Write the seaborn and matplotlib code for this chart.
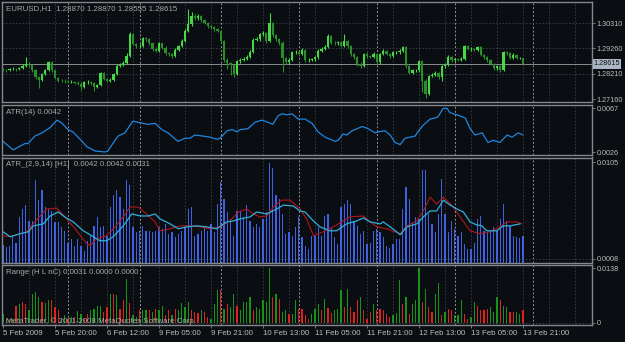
import numpy as np
import pandas as pd
import matplotlib
matplotlib.use("Agg")
import matplotlib.pyplot as plt
import matplotlib.transforms as mtransforms
import seaborn as sns

# EURUSD H1, values (bar index 0 = 5 Feb 2009 04:00)
first_open = 1.2839
close = [
    1.2837, 1.2835, 1.2840, 1.2842, 1.2839, 1.2843, 1.2854, 1.2862, 1.2858, 1.2835,
    1.2807, 1.2796, 1.2821, 1.2837, 1.2868, 1.2835, 1.2803, 1.2793, 1.2792, 1.2789,
    1.2787, 1.2788, 1.2784, 1.2780, 1.2766, 1.2785, 1.2788, 1.2782, 1.2766, 1.2774,
    1.2824, 1.2799, 1.2793, 1.2796, 1.2821, 1.2854, 1.2859, 1.2865, 1.2895, 1.2986,
    1.2944, 1.2934, 1.2936, 1.2968, 1.2964, 1.2947, 1.2923, 1.2917, 1.2947, 1.2929,
    1.2906, 1.2902, 1.2895, 1.2920, 1.2936, 1.2958, 1.2999, 1.3027, 1.3060, 1.3050,
    1.3061, 1.3043, 1.3032, 1.3019, 1.3013, 1.3005, 1.2999, 1.2958, 1.2879, 1.2865,
    1.2858, 1.2821, 1.2872, 1.2879, 1.2884, 1.2892, 1.2913, 1.2961, 1.2964, 1.2984,
    1.2988, 1.2958, 1.3030, 1.2982, 1.2964, 1.2950, 1.2885, 1.2868, 1.2879, 1.2909,
    1.2910, 1.2903, 1.2920, 1.2876, 1.2879, 1.2881, 1.2890, 1.2917, 1.2923, 1.2931,
    1.2977, 1.2950, 1.2947, 1.2951, 1.2936, 1.2958, 1.2934, 1.2903, 1.2890, 1.2862,
    1.2854, 1.2903, 1.2895, 1.2892, 1.2903, 1.2868, 1.2903, 1.2917, 1.2903, 1.2895,
    1.2909, 1.2909, 1.2917, 1.2931, 1.2851, 1.2826, 1.2835, 1.2835, 1.2872, 1.2789,
    1.2739, 1.2810, 1.2817, 1.2826, 1.2807, 1.2851, 1.2858, 1.2892, 1.2876, 1.2881,
    1.2879, 1.2884, 1.2934, 1.2923, 1.2924, 1.2920, 1.2931, 1.2899, 1.2890, 1.2876,
    1.2862, 1.2844, 1.2851, 1.2837, 1.2909, 1.2906, 1.2885, 1.2899, 1.2885, 1.2887,
    1.28615]
high = [
    1.2845, 1.2842, 1.2846, 1.2848, 1.2846, 1.2850, 1.2860, 1.2892, 1.2868, 1.2862,
    1.2840, 1.2812, 1.2826, 1.2842, 1.2875, 1.2872, 1.2838, 1.2808, 1.2800, 1.2798,
    1.2795, 1.2794, 1.2793, 1.2790, 1.2785, 1.2790, 1.2795, 1.2793, 1.2786, 1.2780,
    1.2830, 1.2828, 1.2805, 1.2802, 1.2826, 1.2860, 1.2866, 1.2872, 1.2905, 1.2995,
    1.2990, 1.2950, 1.2944, 1.2975, 1.2974, 1.2968, 1.2952, 1.2930, 1.2952, 1.2950,
    1.2934, 1.2912, 1.2908, 1.2926, 1.2942, 1.2964, 1.3006, 1.3090, 1.3075, 1.3068,
    1.3070, 1.3065, 1.3048, 1.3036, 1.3024, 1.3018, 1.3010, 1.3003, 1.2962, 1.2885,
    1.2870, 1.2862, 1.2878, 1.2886, 1.2892, 1.2898, 1.2920, 1.2968, 1.2972, 1.2990,
    1.2996, 1.2994, 1.3071, 1.3035, 1.2986, 1.2968, 1.2955, 1.2890, 1.2885, 1.2915,
    1.2918, 1.2916, 1.2926, 1.2924, 1.2885, 1.2888, 1.2896, 1.2922, 1.2930, 1.2938,
    1.2985, 1.2982, 1.2956, 1.2958, 1.2956, 1.2985, 1.2962, 1.2938, 1.2908, 1.2894,
    1.2868, 1.2908, 1.2910, 1.2900, 1.2909, 1.2907, 1.2908, 1.2924, 1.2921, 1.2908,
    1.2915, 1.2916, 1.2922, 1.2936, 1.2935, 1.2856, 1.2842, 1.2842, 1.2878, 1.2878,
    1.2800, 1.2816, 1.2824, 1.2832, 1.2830, 1.2858, 1.2866, 1.2898, 1.2896, 1.2888,
    1.2886, 1.2890, 1.2940, 1.2938, 1.2930, 1.2928, 1.2937, 1.2934, 1.2904, 1.2894,
    1.2880, 1.2866, 1.2858, 1.2856, 1.2916, 1.2915, 1.2910, 1.2905, 1.2904, 1.2892,
    1.28870]
low = [
    1.2832, 1.2830, 1.2832, 1.2836, 1.2834, 1.2835, 1.2840, 1.2850, 1.2850, 1.2828,
    1.2800, 1.2762, 1.2790, 1.2815, 1.2832, 1.2828, 1.2798, 1.2786, 1.2786, 1.2783,
    1.2782, 1.2782, 1.2779, 1.2774, 1.2755, 1.2762, 1.2780, 1.2776, 1.2748, 1.2760,
    1.2770, 1.2794, 1.2786, 1.2788, 1.2790, 1.2816, 1.2848, 1.2852, 1.2860, 1.2890,
    1.2938, 1.2926, 1.2928, 1.2930, 1.2955, 1.2940, 1.2915, 1.2910, 1.2912, 1.2922,
    1.2898, 1.2895, 1.2888, 1.2890, 1.2915, 1.2930, 1.2952, 1.2994, 1.3020, 1.3042,
    1.3044, 1.3036, 1.3025, 1.3012, 1.3006, 1.2998, 1.2992, 1.2950, 1.2870, 1.2840,
    1.2815, 1.2808, 1.2815, 1.2866, 1.2872, 1.2878, 1.2888, 1.2908, 1.2955, 1.2958,
    1.2978, 1.2950, 1.2952, 1.2975, 1.2957, 1.2942, 1.2830, 1.2860, 1.2862, 1.2874,
    1.2903, 1.2896, 1.2898, 1.2869, 1.2870, 1.2873, 1.2875, 1.2884, 1.2911, 1.2918,
    1.2926, 1.2944, 1.2940, 1.2942, 1.2930, 1.2930, 1.2926, 1.2896, 1.2882, 1.2855,
    1.2845, 1.2848, 1.2888, 1.2885, 1.2887, 1.2860, 1.2862, 1.2898, 1.2897, 1.2888,
    1.2890, 1.2902, 1.2904, 1.2912, 1.2845, 1.2818, 1.2820, 1.2828, 1.2830, 1.2745,
    1.2722, 1.2734, 1.2806, 1.2810, 1.2800, 1.2790, 1.2846, 1.2852, 1.2870, 1.2870,
    1.2872, 1.2873, 1.2878, 1.2918, 1.2917, 1.2914, 1.2914, 1.2893, 1.2884, 1.2870,
    1.2856, 1.2838, 1.2838, 1.2830, 1.2832, 1.2899, 1.2880, 1.2880, 1.2880, 1.2880,
    1.28555]

# ATR(14) line (bar index, value)
atr_bar = [0, 3.1, 6.8, 7.7, 9.8, 12, 14.5, 16.6, 18.2, 20, 21.5, 23.7, 25.8, 28.3, 31.4,
           32.3, 33.8, 35.4, 37.5, 39.7, 40, 43, 44.6, 46.8, 48.9, 50.8, 52.3, 53.8, 56,
           57.5, 59, 61.5, 63.7, 65.8, 66.8, 68.9, 70.5, 72, 72.9, 75.4, 77.5, 79.7, 81.5,
           83, 84.6, 85.8, 87.4, 88.9, 90.8, 92.9, 95.1, 96.9, 99.1, 102.2, 103.1, 104.6,
           105.8, 107.4, 110.5, 112.3, 114.5, 115.4, 117.5, 119.1, 120.6, 122.2, 123.7,
           126.8, 127.4, 129.2, 131.4, 132.9, 133.8, 135.4, 136.6, 137.5, 138.5, 140.6,
           142.2, 143.7, 145.2, 147.4, 149.2, 150.8, 152.9, 155.1, 156.6, 158.5, 160]
atr_val = [0.0036, 0.0028, 0.0034, 0.0034, 0.0041, 0.0044, 0.0049, 0.0056, 0.0053, 0.0047,
           0.0045, 0.0038, 0.0031, 0.0027, 0.0026, 0.0027, 0.0034, 0.0041, 0.0044, 0.0054,
           0.0055, 0.0053, 0.0052, 0.0053, 0.0047, 0.0044, 0.0040, 0.0036, 0.0039, 0.0039,
           0.0042, 0.0041, 0.0040, 0.0038, 0.0039, 0.0046, 0.0047, 0.0045, 0.0047, 0.0048,
           0.0054, 0.0056, 0.0054, 0.0052, 0.0060, 0.0062, 0.0061, 0.0062, 0.0057, 0.0057,
           0.0053, 0.0045, 0.0040, 0.0036, 0.0037, 0.0043, 0.0042, 0.0046, 0.0050, 0.0048,
           0.0044, 0.0045, 0.0046, 0.0042, 0.0035, 0.0033, 0.0039, 0.0041, 0.0044, 0.0051,
           0.0057, 0.0058, 0.0059, 0.0067, 0.0067, 0.0063, 0.0062, 0.0060, 0.0058, 0.0048,
           0.0042, 0.0044, 0.0035, 0.0037, 0.0035, 0.0042, 0.0040, 0.0044, 0.0042]

# ATR_(2,9,14) histogram and its two lines
atr_hist = [
    0.0022, 0.0020, 0.0021, 0.0031, 0.0024, 0.0050, 0.0058, 0.0062, 0.0046, 0.0046,
    0.0087, 0.0067, 0.0077, 0.0060, 0.0058, 0.0056, 0.0045, 0.0045, 0.0040, 0.0036,
    0.0024, 0.0028, 0.0021, 0.0028, 0.0021, 0.0016, 0.0026, 0.0031, 0.0041, 0.0050,
    0.0040, 0.0041, 0.0031, 0.0060, 0.0072, 0.0077, 0.0070, 0.0058, 0.0087, 0.0082,
    0.0040, 0.0035, 0.0036, 0.0041, 0.0036, 0.0036, 0.0035, 0.0036, 0.0040, 0.0038,
    0.0043, 0.0033, 0.0035, 0.0030, 0.0033, 0.0036, 0.0040, 0.0058, 0.0060, 0.0031,
    0.0033, 0.0036, 0.0040, 0.0036, 0.0043, 0.0035, 0.0063, 0.0085, 0.0068, 0.0055,
    0.0048, 0.0031, 0.0056, 0.0056, 0.0050, 0.0062, 0.0046, 0.0040, 0.0043, 0.0040,
    0.0048, 0.0055, 0.0104, 0.0099, 0.0072, 0.0068, 0.0053, 0.0033, 0.0035, 0.0031,
    0.0040, 0.0050, 0.0030, 0.0021, 0.0018, 0.0031, 0.0031, 0.0040, 0.0031, 0.0051,
    0.0053, 0.0040, 0.0030, 0.0023, 0.0060, 0.0063, 0.0067, 0.0063, 0.0046, 0.0041,
    0.0033, 0.0036, 0.0023, 0.0024, 0.0036, 0.0038, 0.0035, 0.0030, 0.0021, 0.0019,
    0.0023, 0.0028, 0.0028, 0.0058, 0.0080, 0.0068, 0.0045, 0.0050, 0.0048, 0.0097,
    0.0097, 0.0053, 0.0043, 0.0035, 0.0053, 0.0088, 0.0053, 0.0035, 0.0046, 0.0038,
    0.0031, 0.0035, 0.0023, 0.0018, 0.0018, 0.0024, 0.0048, 0.0051, 0.0036, 0.0035,
    0.0035, 0.0040, 0.0036, 0.0048, 0.0063, 0.0046, 0.0041, 0.0031, 0.0030, 0.0029,
    0.0031]
cyan_bar = [0, 2.2, 5.2, 7.8, 9.3, 12.4, 14.5, 17, 19, 21.6, 24.7, 27.8, 29.8, 31.9, 33.9,
            37, 39.6, 42.2, 44.7, 46.8, 48.3, 51.4, 54, 56.5, 59.6, 62.7, 65.7, 68.8, 70.9,
            72.9, 76, 78, 81.1, 84.2, 86.3, 89.3, 91.4, 92.9, 95.5, 97.5, 100.6, 102.6,
            105.7, 108.8, 110.9, 112.9, 116, 117, 119.1, 121.1, 122.2, 124.2, 127.3, 129.3,
            131.4, 133.4, 135.5, 137.5, 139.6, 141.6, 143.7, 145.7, 147.3, 148.8, 151.9,
            153.9, 156, 159.1]
cyan_val = [0.0035, 0.0030, 0.0033, 0.0035, 0.0041, 0.0043, 0.0051, 0.0055, 0.0050, 0.0045,
            0.0036, 0.0030, 0.0026, 0.0026, 0.0030, 0.0041, 0.0053, 0.0051, 0.0051, 0.0053,
            0.0048, 0.0043, 0.0038, 0.0040, 0.0041, 0.0040, 0.0038, 0.0045, 0.0046, 0.0048,
            0.0050, 0.0055, 0.0053, 0.0058, 0.0062, 0.0061, 0.0056, 0.0055, 0.0046, 0.0040,
            0.0036, 0.0036, 0.0043, 0.0046, 0.0049, 0.0045, 0.0043, 0.0045, 0.0040, 0.0035,
            0.0032, 0.0040, 0.0043, 0.0050, 0.0056, 0.0056, 0.0067, 0.0062, 0.0058, 0.0055,
            0.0045, 0.0042, 0.0041, 0.0036, 0.0036, 0.0041, 0.0041, 0.0043]
red_bar = [0, 2.2, 5.2, 7.3, 9.8, 11.9, 13.4, 16.5, 19.6, 22.7, 25.7, 26.8, 28.8, 31.9, 34.5,
           37, 39.1, 41.6, 44.2, 46.8, 48.3, 51.4, 54.5, 57.5, 60.6, 63.7, 66.8, 69.8, 72.4,
           75, 77, 79.1, 81.1, 83.2, 85.7, 88.3, 91.4, 93.4, 95.5, 98.5, 101.6, 104.2, 106.7,
           110.9, 112.9, 115, 118.1, 122.2, 124.2, 127.3, 129.3, 131.4, 133.4, 135.5, 138.6,
           140.6, 143.7, 146.8, 149.8, 152.9, 155, 158.1, 159.6]
red_val = [0.0031, 0.0030, 0.0033, 0.0035, 0.0045, 0.0053, 0.0058, 0.0059, 0.0048, 0.0036,
           0.0023, 0.0021, 0.0028, 0.0031, 0.0040, 0.0050, 0.0060, 0.0060, 0.0053, 0.0045,
           0.0036, 0.0038, 0.0041, 0.0041, 0.0040, 0.0038, 0.0040, 0.0046, 0.0055, 0.0058,
           0.0053, 0.0050, 0.0051, 0.0060, 0.0067, 0.0067, 0.0058, 0.0048, 0.0031, 0.0035,
           0.0040, 0.0045, 0.0050, 0.0051, 0.0045, 0.0040, 0.0038, 0.0033, 0.0041, 0.0046,
           0.0056, 0.0070, 0.0063, 0.0070, 0.0060, 0.0050, 0.0036, 0.0033, 0.0035, 0.0040,
           0.0045, 0.0045, 0.0043]

# Range (H L nC) histogram, g = up bar, r = down bar
range_hl = [
    0.0022, 0.0009, 0.0009, 0.0009, 0.0043, 0.0048, 0.0052, 0.0048, 0.0031, 0.0073,
    0.0078, 0.0065, 0.0052, 0.0049, 0.0058, 0.0058, 0.0039, 0.0032, 0.0009, 0.0018,
    0.0009, 0.0014, 0.0015, 0.0029, 0.0022, 0.0009, 0.0022, 0.0031, 0.0035, 0.0043,
    0.0043, 0.0026, 0.0039, 0.0073, 0.0073, 0.0069, 0.0035, 0.0056, 0.0109, 0.0049,
    0.0018, 0.0014, 0.0032, 0.0031, 0.0032, 0.0031, 0.0026, 0.0035, 0.0032, 0.0041,
    0.0020, 0.0032, 0.0020, 0.0035, 0.0031, 0.0049, 0.0039, 0.0052, 0.0031, 0.0026,
    0.0024, 0.0031, 0.0026, 0.0014, 0.0009, 0.0048, 0.0083, 0.0082, 0.0035, 0.0048,
    0.0039, 0.0073, 0.0043, 0.0031, 0.0052, 0.0052, 0.0065, 0.0031, 0.0039, 0.0035,
    0.0056, 0.0052, 0.0137, 0.0065, 0.0073, 0.0060, 0.0026, 0.0031, 0.0022, 0.0022,
    0.0056, 0.0035, 0.0035, 0.0018, 0.0009, 0.0022, 0.0035, 0.0048, 0.0032, 0.0060,
    0.0037, 0.0024, 0.0031, 0.0035, 0.0082, 0.0039, 0.0086, 0.0039, 0.0026, 0.0056,
    0.0065, 0.0031, 0.0009, 0.0026, 0.0048, 0.0031, 0.0035, 0.0032, 0.0022, 0.0015,
    0.0018, 0.0024, 0.0107, 0.0048, 0.0065, 0.0022, 0.0048, 0.0056, 0.0137, 0.0052,
    0.0086, 0.0039, 0.0026, 0.0073, 0.0099, 0.0018, 0.0026, 0.0035, 0.0031, 0.0018,
    0.0020, 0.0056, 0.0022, 0.0009, 0.0014, 0.0052, 0.0043, 0.0031, 0.0031, 0.0035,
    0.0039, 0.0026, 0.0065, 0.0056, 0.0043, 0.0039, 0.0026, 0.0026, 0.0026, 0.0022,
    0.0031]
range_dir = ("ggrgrgrrgg" "ggrggrrrgg" "rgrggrrggg" "grrgrgrrgr" "ggrggrgrgg"
             "rrgrggggrr" "rgrrgggrgr" "ggrggggrgg" "gggrgrggrg" "grrrrgggrg"
             "rrgggrgrrr" "grrrgrrrrr" "gggrgrgggr" "grrggrgrrg" "ggrrggrrrr"
             "gggrggrrgg" "r")

time_bars = [0, 16, 32, 48, 64, 80, 96, 112, 128, 144, 160]
time_labels = ['5 Feb 2009', '5 Feb 20:00', '6 Feb 12:00', '9 Feb 05:00', '9 Feb 21:00',
               '10 Feb 13:00', '11 Feb 05:00', '11 Feb 21:00', '12 Feb 13:00',
               '13 Feb 05:00', '13 Feb 21:00']
day_starts = [20, 42, 67, 91, 115, 139, 163]
price_ticks = [1.3031, 1.2926, 1.2821, 1.2716]

BG = '#0a0d11'
GRID = '#3c4148'
SEP = '#8f9397'
EDGE = '#83878b'
TXT = '#bcbcbc'
FS = 5.7
FS_Y = 5.2

sns.set_theme(style='dark', rc={'axes.facecolor': BG, 'figure.facecolor': BG,
                                'axes.edgecolor': EDGE, 'axes.grid': False})
plt.rcParams['font.family'] = ['Liberation Sans', 'DejaVu Sans']

W, H = 625, 342
fig = plt.figure(figsize=(W / 100, H / 100), dpi=100)


def panel(top, bottom):
    return fig.add_axes([2 / W, 1 - bottom / H, 590 / W, (bottom - top) / H])


ax1 = panel(2, 102)
ax2 = panel(104.5, 155)
ax3 = panel(157.5, 262.5)
ax4 = panel(265, 324.5)
axes = [ax1, ax2, ax3, ax4]

for ax in axes:
    ax.set_facecolor(BG)
    for g in range(8, 181, 8):
        ax.axvline(g, color=GRID, lw=0.6, ls=(0, (2, 2)), zorder=0)
    for d in day_starts:
        ax.axvline(d, color=SEP, lw=0.7, ls=(0, (2, 2)), zorder=0)
    for s in ax.spines.values():
        s.set_color(EDGE)
        s.set_linewidth(1.0)

# price candles
x = np.arange(len(close))
c = np.array(close)
o = np.array([first_open] + close[:-1])
up = c >= o
col = np.where(up, '#47d847', '#2a8e2a')
for p in price_ticks[:3]:
    ax1.axhline(p, color=GRID, lw=0.6, ls=(0, (2, 2)), zorder=0)
ax1.axhline(close[-1], color='#8c8c8c', lw=0.7, zorder=1)
ax1.vlines(x, low, high, colors=col, lw=0.8, zorder=2)
ax1.bar(x, np.maximum(np.abs(c - o), 0.00006), bottom=np.minimum(o, c),
        width=0.7, color=col, linewidth=0, zorder=3)
ax1.set_ylim(1.2704, 1.3118)

# ATR(14)
sns.lineplot(x=atr_bar, y=atr_val, ax=ax2, color='#1f86e0', lw=0.9, sort=False)
ax2.set_ylim(0.00232, 0.00707)

# ATR_(2,9,14)
ax3.bar(x, atr_hist, width=0.4, color='#3f62e4', linewidth=0, zorder=2)
sns.lineplot(x=red_bar, y=red_val, ax=ax3, color='#b0161a', lw=0.8, sort=False, zorder=3)
sns.lineplot(x=cyan_bar, y=cyan_val, ax=ax3, color='#2eb0dc', lw=0.9, sort=False, zorder=4)
ax3.axhline(0.0008, color=GRID, lw=0.6, ls=(0, (2, 2)), zorder=1)
ax3.set_ylim(0.0004, 0.0110)

# Range (H L nC)
rcol = ['#17931a' if d == 'g' else '#e0221f' for d in range_dir]
ax4.bar(x, range_hl, width=0.4, color=rcol, linewidth=0, zorder=2)
ax4.axhline(0, color=GRID, lw=0.6, ls=(0, (2, 2)), zorder=1)
ax4.set_ylim(-0.0005, 0.01457)

right_ticks = [
    (ax1, price_ticks, [f'{p:.5f}' for p in price_ticks]),
    (ax2, [0.0067, 0.0026], ['0.0067', '0.0026']),
    (ax3, [0.0105, 0.0008], ['0.0105', '0.0008']),
    (ax4, [0.0138, 0.0], ['0.0138', '0']),
]
for ax, ticks, labels in right_ticks:
    ax.set_xlim(-0.31, 181.2)
    ax.set_xlabel('')
    ax.set_ylabel('')
    ax.yaxis.tick_right()
    ax.set_yticks(ticks)
    ax.set_yticklabels(labels)
    ax.tick_params(axis='y', which='both', right=True, left=False, length=2, width=0.6,
                   color=EDGE, labelcolor=TXT, labelsize=FS_Y, pad=1.5)
    if ax is not ax4:
        ax.set_xticks([])

ax4.set_xticks(time_bars)
ax4.set_xticklabels(time_labels, ha='left')
ax4.tick_params(axis='x', bottom=True, length=2.5, width=0.6, color=EDGE,
                labelcolor=TXT, labelsize=FS, pad=1.5)

# current price tag
tag = mtransforms.blended_transform_factory(ax1.transAxes, ax1.transData)
ax1.text(1.003, close[-1], '1.28615', transform=tag, ha='left', va='center',
         fontsize=FS_Y, color='#0c1117',
         bbox=dict(boxstyle='square,pad=0.15', fc='#aab6c3', ec='none'))

# window captions
captions = [
    (5, 'EURUSD,H1  1.28870 1.28870 1.28555 1.28615'),
    (108.5, 'ATR(14) 0.0042'),
    (160.5, 'ATR_(2,9,14) [H1]  0.0042 0.0042 0.0031'),
    (268.5, 'Range (H L nC) 0.0031 0.0000 0.0000'),
    (317.5, 'MetaTrader, \u00a9 2001-2008 MetaQuotes Software Corp.'),
]
for top, s in captions:
    fig.text(6 / W, 1 - top / H, s, ha='left', va='top', fontsize=FS, color='#a8a8a8')

fig.savefig('out.png', dpi=100, facecolor=BG)
